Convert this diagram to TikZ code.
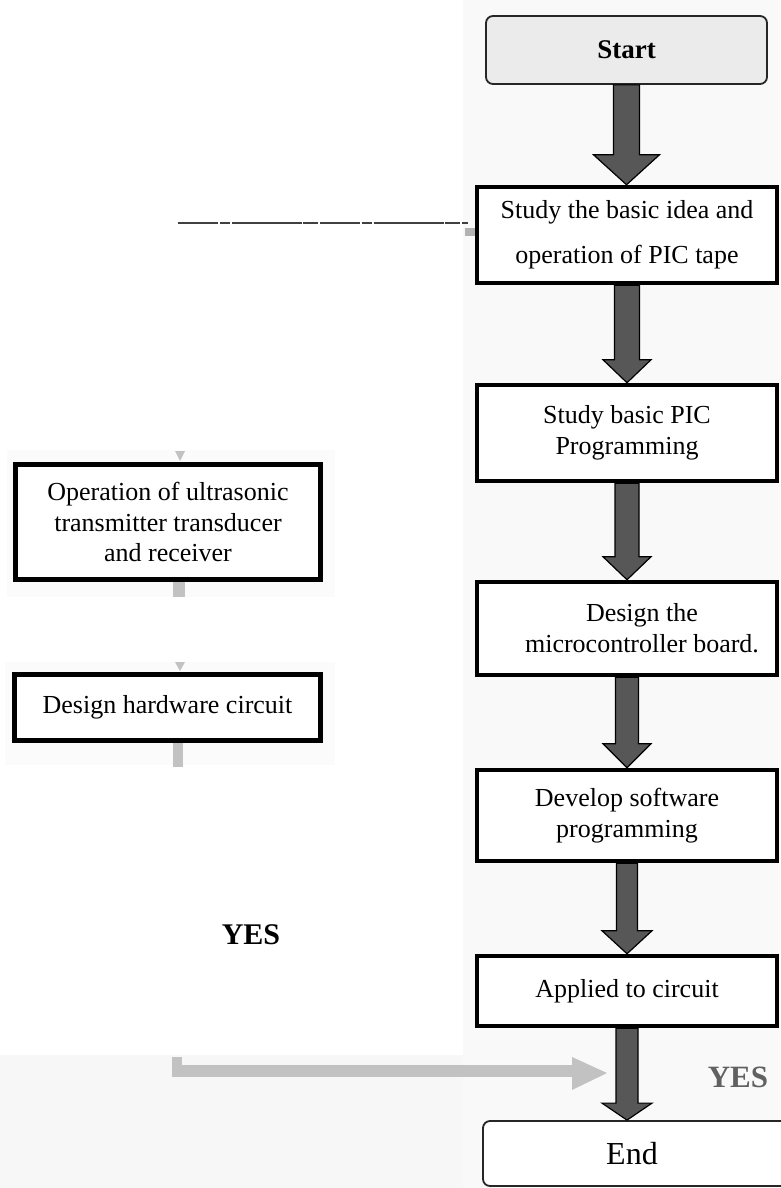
\documentclass[tikz,border=0pt]{standalone}
\usepackage{fontspec}
\setmainfont{Liberation Serif}
\usetikzlibrary{calc}
\tikzset{
  rbox/.style={draw=black, line width=4.5pt, fill=white, minimum width=300pt,
    align=center, inner sep=0pt, font=\fontsize{26}{31}\selectfont},
  lbox/.style={draw=black, line width=5pt, fill=white,
    align=center, inner sep=0pt, font=\fontsize{26}{30.5}\selectfont},
  term/.style={draw=black!85, line width=1.8pt, rounded corners=7pt, inner sep=0pt},
  bigarrow/.style={fill=black!66, draw=black, line width=1.2pt},
  ghost/.style={fill=black!24, draw=none},
  yeslabel/.style={font=\fontsize{30}{30}\selectfont\bfseries, inner sep=0pt},
}
\newcommand\bigarr[5]{%
  \filldraw[bigarrow] ($(#1.south)+(-#3,0)$) -- ($(#1.south |- #2.north)+(-#3,-#5)$)
    -- ($(#1.south |- #2.north)+(-#4,-#5)$) -- (#1.south |- #2.north)
    -- ($(#1.south |- #2.north)+(#4,-#5)$) -- ($(#1.south |- #2.north)+(#3,-#5)$)
    -- ($(#1.south)+(#3,0)$) -- cycle;}
\begin{document}
\begin{tikzpicture}[x=1pt,y=-1pt]
\useasboundingbox (0,0) rectangle (780,1188);
% faint scan background
\fill[black!2.5] (463,0) rectangle (780,1188);
\fill[black!3] (0,1055) rectangle (463,1188);
\fill[black!1.5] (7,450) rectangle (335,597);
\fill[black!1.5] (5,662) rectangle (335,765);

% right column
\node[term, fill=black!8, minimum width=281pt, minimum height=68pt,
  font=\fontsize{27}{30}\selectfont\bfseries] (start) at (626.5,50) {Start};
\fill[black!30] (465,228) rectangle (479,236);
\node[rbox, minimum height=96pt, font=\fontsize{26}{45}\selectfont] (b2) at (627,235)
  {Study the basic idea and\\operation of PIC tape};
\node[rbox, minimum height=96pt] (b3) at (627,433) {Study basic PIC\\Programming};
\node[rbox, minimum height=93pt] (b4) at (627,628.5)
  {\hspace*{30pt}Design the\\\hspace*{30pt}microcontroller board.};
\node[rbox, minimum height=91pt] (b5) at (627,815.5) {Develop software\\programming};
\node[rbox, minimum height=70pt] (b6) at (627,991) {Applied to circuit};
\node[term, fill=white, minimum width=308pt, minimum height=65pt,
  font=\fontsize{32}{34}\selectfont] (end) at (637,1153.5) {\hspace*{-10pt}End};

\bigarr{start}{b2}{13}{33}{30}
\bigarr{b2}{b3}{12.5}{24}{23}
\bigarr{b3}{b4}{12}{24}{23}
\bigarr{b4}{b5}{11.5}{24}{24}
\bigarr{b5}{b6}{10.5}{25}{23}
\bigarr{b6}{end}{11}{25}{17}

% broken line at top left
\coordinate (dashL) at (178,223);
\coordinate (dashR) at (468,223);
\draw[black!75, line width=1.2pt, dash pattern=on 40pt off 1.5pt on 10pt off 2pt on 70pt off 1.5pt on 15pt off 2pt] (dashL) -- (dashR);

% left column
\node[lbox, minimum width=305pt, minimum height=115pt] (L1) at (168,522)
  {Operation of ultrasonic\\transmitter transducer\\and receiver};
\node[lbox, minimum width=306pt, minimum height=66pt] (L2) at (167.5,707.5)
  {Design hardware circuit};

% ghost connectors
\fill[ghost] ($(L1.north)+(7,-11)$) -- ($(L1.north)+(17,-11)$) -- ($(L1.north)+(12,-1)$) -- cycle;
\fill[ghost] ($(L1.south)+(5,0)$) rectangle ($(L1.south)+(17,15)$);
\fill[ghost] ($(L2.north)+(7.5,-10)$) -- ($(L2.north)+(17.5,-10)$) -- ($(L2.north)+(12.5,-1)$) -- cycle;
\fill[ghost] ($(L2.south)+(5.5,0)$) rectangle ($(L2.south)+(15.5,24)$);

\coordinate (gstart) at (172,1057);
\coordinate (gtip) at (607,1073);
\fill[ghost] (gstart) rectangle ++(10,13);
\fill[ghost] (gstart |- 0,1065) rectangle (572,1077);
\fill[ghost] (572,1057) -- (gtip) -- (572,1090) -- cycle;

% labels
\node[yeslabel] (yesL) at (251,935) {YES};
\node[yeslabel, text=black!62, font=\fontsize{31}{31}\selectfont\bfseries] (yesR) at (738,1077) {YES};
\end{tikzpicture}
\end{document}
